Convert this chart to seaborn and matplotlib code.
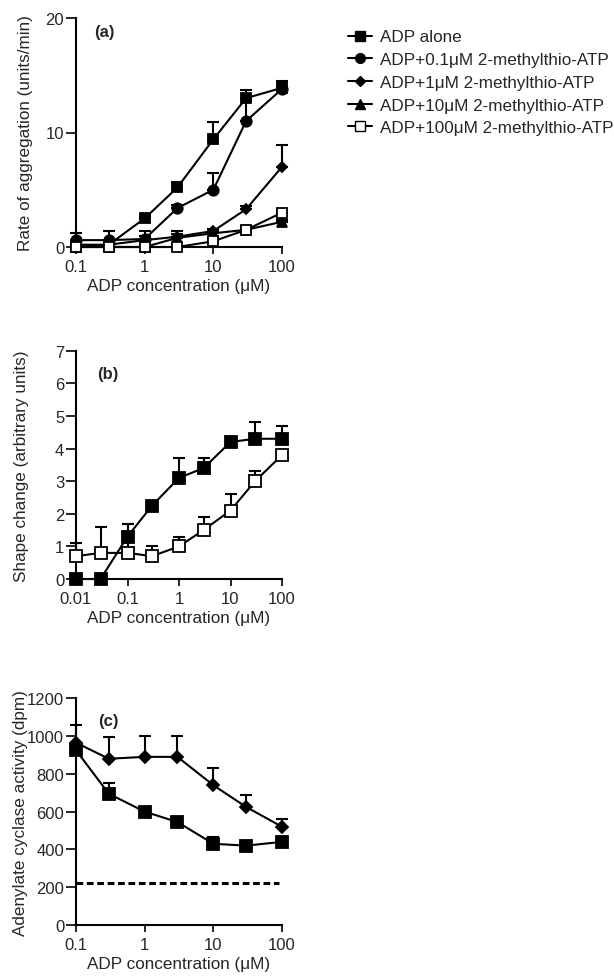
import numpy as np
import pandas as pd
import matplotlib
matplotlib.use("Agg")
import matplotlib.pyplot as plt
from matplotlib.lines import Line2D
import seaborn as sns

sns.set_style("ticks")
plt.rcParams["font.family"] = ["Liberation Sans", "DejaVu Sans"]
plt.rcParams["xtick.direction"] = "out"
plt.rcParams["ytick.direction"] = "out"

# ---- Panel (a): aggregation ----
conc_a = [0.1, 0.3, 1, 3, 10, 30, 100]
agg_alone = [0.0, 0.2, 2.5, 5.2, 9.4, 13.0, 13.9]
agg_alone_err = [0.3, 0.3, 0.2, 0.5, 1.5, 0.7, 0.6]
agg_01 = [0.6, 0.6, 0.7, 3.4, 5.0, 11.0, 13.8]
agg_01_err = [0.6, 0.8, 0.7, 0.3, 1.5, 2.0, 0.6]
agg_1 = [0.2, 0.2, 0.6, 0.9, 1.4, 3.3, 7.0]
agg_1_err = [0.4, 0.4, 0.4, 0.5, 0.2, 0.3, 1.9]
agg_10 = [0.0, 0.0, 0.0, 0.8, 1.2, 1.5, 2.2]
agg_10_err = [0.3, 0.3, 0.3, 0.3, 0.2, 0.3, 0.2]
agg_100 = [0.0, 0.0, 0.0, 0.0, 0.5, 1.5, 3.0]
agg_100_err = [0.0, 0.0, 0.0, 0.0, 0.2, 0.2, 0.2]

legend_labels = ["ADP alone",
                 "ADP+0.1μM 2-methylthio-ATP",
                 "ADP+1μM 2-methylthio-ATP",
                 "ADP+10μM 2-methylthio-ATP",
                 "ADP+100μM 2-methylthio-ATP"]

# ---- Panel (b): shape change ----
conc_b = [0.01, 0.03, 0.1, 0.3, 1, 3, 10, 30, 100]
shape_alone = [0.0, 0.0, 1.3, 2.25, 3.1, 3.4, 4.2, 4.3, 4.3]
shape_alone_err = [0.0, 0.0, 0.4, 0.1, 0.6, 0.3, 0.1, 0.5, 0.4]
shape_100 = [0.7, 0.8, 0.8, 0.7, 1.0, 1.5, 2.1, 3.0, 3.8]
shape_100_err = [0.4, 0.8, 0.9, 0.3, 0.3, 0.4, 0.5, 0.3, 0.1]

# ---- Panel (c): adenylate cyclase ----
conc_c = [0.1, 0.3, 1, 3, 10, 30, 100]
cyc_alone = [925, 695, 600, 545, 430, 420, 440]
cyc_alone_err = [20, 55, 15, 15, 35, 10, 15]
cyc_1 = [965, 880, 890, 890, 740, 625, 520]
cyc_1_err = [95, 115, 110, 110, 90, 65, 40]
cyc_basal = 220

W, H = 614, 978
fig = plt.figure(figsize=(W / 100, H / 100), dpi=100)


def axes_px(x0, x1, ytop, ybot):
    return fig.add_axes([x0 / W, 1 - ybot / H, (x1 - x0) / W, (ybot - ytop) / H])


LW = 1.5
TICK_FS = 12
LAB_FS = 12.3


def series(ax, x, y, err, marker, ms, face="black"):
    df = pd.DataFrame({"x": x, "y": y})
    ax.errorbar(x, y, yerr=[np.zeros(len(err)), err], fmt="none", ecolor="black",
                elinewidth=LW, capsize=4.5, capthick=LW, clip_on=False, zorder=2)
    sns.lineplot(data=df, x="x", y="y", ax=ax, color="black", linewidth=LW,
                 marker=marker, markersize=ms, markerfacecolor=face,
                 markeredgecolor="black", markeredgewidth=1.3, clip_on=False,
                 zorder=3, legend=False)


def style_axes(ax, xticks, xlabels, yticks, ylim, ylabel, ylabel_x, tag, tag_xy):
    ax.set_xscale("log")
    ax.set_xlim(xticks[0], xticks[-1])
    ax.set_xticks(xticks)
    ax.set_xticklabels(xlabels)
    ax.xaxis.set_minor_locator(matplotlib.ticker.NullLocator())
    ax.set_ylim(*ylim)
    ax.set_yticks(yticks)
    ax.tick_params(axis="x", labelsize=TICK_FS, width=1.2, length=5, color="black", pad=3.5)
    ax.tick_params(axis="y", labelsize=TICK_FS, width=1.2, length=7, color="black", pad=1.5)
    for s in ("left", "bottom"):
        ax.spines[s].set_linewidth(1.5)
        ax.spines[s].set_color("black")
    sns.despine(ax=ax)
    ax.set_xlabel("ADP concentration (μM)", fontsize=LAB_FS, labelpad=3)
    ax.set_ylabel(ylabel, fontsize=LAB_FS)
    ax.yaxis.set_label_coords(ylabel_x, 0.5)
    ax.text(tag_xy[0], tag_xy[1], tag, transform=ax.transAxes, fontsize=12,
            fontweight="bold", ha="center", va="center")


# Panel (a)
ax_a = axes_px(76, 282, 19, 248)
series(ax_a, conc_a, agg_alone, agg_alone_err, "s", 7.5)
series(ax_a, conc_a, agg_01, agg_01_err, "o", 7.5)
series(ax_a, conc_a, agg_1, agg_1_err, "D", 5.5)
series(ax_a, conc_a, agg_10, agg_10_err, "^", 7)
series(ax_a, conc_a, agg_100, agg_100_err, "s", 7.5, face="white")
style_axes(ax_a, [0.1, 1, 10, 100], ["0.1", "1", "10", "100"], [0, 10, 20], (0, 20),
           "Rate of aggregation (units/min)", -0.21, "(a)", (0.14, 0.94))

# Legend for panel (a)
handles = [
    Line2D([], [], color="black", lw=LW, marker="s", ms=7, mfc="black", mec="black"),
    Line2D([], [], color="black", lw=LW, marker="o", ms=7, mfc="black", mec="black"),
    Line2D([], [], color="black", lw=LW, marker="D", ms=5.5, mfc="black", mec="black"),
    Line2D([], [], color="black", lw=LW, marker="^", ms=7, mfc="black", mec="black"),
    Line2D([], [], color="black", lw=LW, marker="s", ms=7, mfc="white", mec="black"),
]
fig.legend(handles, legend_labels, loc="upper left", bbox_to_anchor=(348 / W, 1 - 30.5 / H),
           frameon=False, fontsize=12.3, handlelength=1.4, handletextpad=0.5,
           labelspacing=0.45, borderaxespad=0, borderpad=0)

# Panel (b)
ax_b = axes_px(76, 282, 351.7, 580)
series(ax_b, conc_b, shape_alone, shape_alone_err, "s", 8.5)
series(ax_b, conc_b, shape_100, shape_100_err, "s", 8.5, face="white")
style_axes(ax_b, [0.01, 0.1, 1, 10, 100], ["0.01", "0.1", "1", "10", "100"],
           list(range(8)), (0, 7), "Shape change (arbitrary units)", -0.23,
           "(b)", (0.155, 0.9))

# Panel (c)
ax_c = axes_px(76, 282, 699.3, 926)
sns.lineplot(x=[0.1, 90], y=[cyc_basal, cyc_basal], ax=ax_c, color="black",
             linewidth=2.2, linestyle=(0, (2.2, 1.2)), clip_on=False, legend=False)
series(ax_c, conc_c, cyc_alone, cyc_alone_err, "s", 8.5)
series(ax_c, conc_c, cyc_1, cyc_1_err, "D", 6)
style_axes(ax_c, [0.1, 1, 10, 100], ["0.1", "1", "10", "100"],
           list(range(0, 1201, 200)), (0, 1200), "Adenylate cyclase activity (dpm)", -0.235,
           "(c)", (0.155, 0.9))

fig.savefig("out.png", dpi=100)
